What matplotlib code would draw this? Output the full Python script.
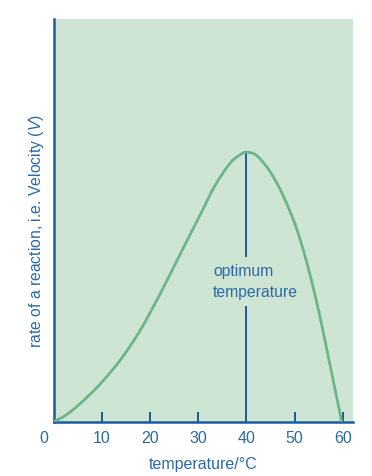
"""
Enzyme activity vs temperature - rate of reaction curve
"""
import numpy as np
import matplotlib.pyplot as plt
from matplotlib.path import Path
from matplotlib.patches import PathPatch
from matplotlib.transforms import ScaledTranslation

plt.rcParams['font.family'] = ['Liberation Sans', 'DejaVu Sans']
plt.rcParams['mathtext.fontset'] = 'custom'
plt.rcParams['mathtext.it'] = 'Liberation Sans:italic'
plt.rcParams['mathtext.rm'] = 'Liberation Sans'

# ── Data ────────────────────────────────────────────────────
temperature = [0, 2.5, 5.5, 9.6, 13.8, 17.9, 22.1, 26.2, 30.4, 33.5, 36.6,
               38.7, 40.0, 42.1, 44.9, 47.7, 50.5, 52.9, 55.0, 57.0, 59.0, 59.75]
velocity = [0, 1.6, 4.5, 9.3, 15.3, 22.6, 31.8, 41.5, 51.4, 58.7, 64.2,
            66.3, 66.9, 66.1, 62.1, 55.9, 47.6, 37.8, 27.4, 16.0, 4.4, 0]
x_ticks = [0, 10, 20, 30, 40, 50, 60]
optimum_temp = 40
optimum_label = 'optimum\ntemperature'

# ── Style ────────────────────────────────────────────────────
bg_green = '#cfe5d4'
curve_green = '#6cb58a'
axis_blue = '#1a5c9e'
text_blue = '#2b6aa6'

fig = plt.figure(figsize=(3.72, 4.77), dpi=100)
ax = fig.add_axes([53.7 / 372, 54.3 / 477, 299.3 / 372, 402.7 / 477])
ax.set_facecolor(bg_green)

# smooth curve through the read points (Catmull-Rom as cubic Bezier)
pts = np.column_stack([temperature, velocity])
ext = np.vstack([pts[0], pts, pts[-1]])
verts = [pts[0]]
codes = [Path.MOVETO]
for i in range(1, len(ext) - 2):
    p0, p1, p2, p3 = ext[i - 1], ext[i], ext[i + 1], ext[i + 2]
    verts += [p1 + (p2 - p0) / 6, p2 - (p3 - p1) / 6, p2]
    codes += [Path.CURVE4] * 3
curve = PathPatch(Path(verts, codes), facecolor='none', edgecolor=curve_green,
                  linewidth=2.0, capstyle='round', zorder=3)
ax.add_patch(curve)

# vertical marker at the optimum, broken around the label
peak = max(velocity)
ax.vlines(optimum_temp, 0, 28.8, color=axis_blue, linewidth=1.4, zorder=2)
ax.vlines(optimum_temp, 41.0, peak, color=axis_blue, linewidth=1.4, zorder=2)
ax.text(33.1, 34.9, optimum_label, color=text_blue, fontsize=11.3,
        ha='left', va='center', linespacing=1.45)

ax.set_xlim(0, 62.1)
ax.set_ylim(0, 100)

for side in ['top', 'right']:
    ax.spines[side].set_visible(False)
for side in ['left', 'bottom']:
    ax.spines[side].set_color(axis_blue)
    ax.spines[side].set_linewidth(1.8)

ax.set_xticks(x_ticks)
ax.set_xticklabels([str(t) for t in x_ticks])
ax.tick_params(axis='x', direction='in', length=7, width=1.4, color=axis_blue,
               labelcolor=text_blue, labelsize=11.5, pad=6)
ax.set_yticks([])
# no tick mark at 0 (spine) or 40 (marker line)
ticks = ax.xaxis.get_major_ticks()
for i in (0, 4):
    ticks[i].tick1line.set_visible(False)
# the "0" label sits a little left of the axis
ticks[0].label1.set_transform(ticks[0].label1.get_transform() +
                              ScaledTranslation(-10 / 100, 0, fig.dpi_scale_trans))

ax.set_xlabel('temperature/°C', color=text_blue, fontsize=11.5, labelpad=8)
ax.set_ylabel(r'rate of a reaction, i.e. Velocity ($\mathit{V}$)',
              color=text_blue, fontsize=11.3)
ax.yaxis.set_label_coords(-0.027, 0.477)

fig.savefig('out.png', dpi=100)
